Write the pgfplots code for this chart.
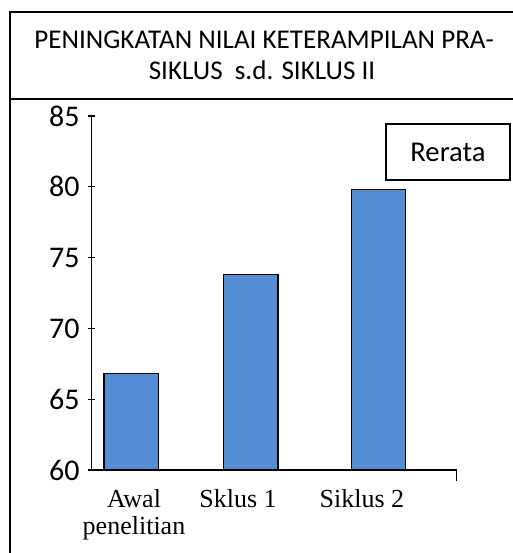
\documentclass[border=0pt]{standalone}
\usepackage{pgfplots}
\pgfplotsset{compat=1.18}
\usepackage{fontspec}
\setmainfont{Carlito}
\newfontfamily\timesfont{Liberation Serif}
\definecolor{barblue}{RGB}{84,141,212}
\begin{document}
\begin{tikzpicture}[x=0.75pt,y=0.75pt]
\useasboundingbox (0,0) rectangle (512,553);
% outer frame (cut at right and bottom)
\draw[line width=1.5pt] (9.5,-10) -- (9.5,553-11.7) -- (530,553-11.7);
% title separator
\draw[line width=1.1pt] (9.5,553-99) -- (530,553-99);
% title
\node[anchor=base,font=\fontsize{20.3}{24}\selectfont,inner sep=0pt] at (264,553-49) {PENINGKATAN NILAI KETERAMPILAN PRA-};
\node[anchor=base,font=\fontsize{20.3}{24}\selectfont,inner sep=0pt] at (262,553-80) {SIKLUS\ \ s.d. SIKLUS II};
\coordinate (axorig) at (91.7,83);
\begin{axis}[
  at={(axorig)}, anchor=south west,
  scale only axis, width=273.75pt, height=265.5pt,
  xmin=91.7, xmax=456.7, ymin=60, ymax=85,
  axis x line=bottom, axis y line=left,
  axis line style={-, line width=1.1pt},
  xtick={134,238,362},
  xticklabels={{Awal\\penelitian},{Sklus 1},{Siklus 2}},
  x tick label style={align=center, font=\timesfont\fontsize{19.5}{20.5}\selectfont, yshift=-8.5pt},
  major x tick style={draw=none},
  ytick={60,65,...,85},
  y tick label style={font=\fontsize{22.5}{26}\selectfont, xshift=-3pt},
  /pgf/number format/assume math mode=true,
  major y tick style={line width=1pt, black},
  tick align=center, major tick length=5.25pt,
  clip=true,
]
\addplot[ybar, bar width=54.5, fill=barblue, draw=black, line width=1pt]
  coordinates {(131.3,66.8) (250.7,73.8) (378.5,79.8)};
\end{axis}
% small tick at right end of x axis
\draw[line width=1.1pt] (456.7,83) -- (456.7,72);
% legend box
\node[draw, line width=1pt, minimum width=124*0.75pt, minimum height=56*0.75pt, inner sep=0pt, font=\fontsize{21.5}{25}\selectfont] at (448,553-152) {Rerata};
\end{tikzpicture}
\end{document}
